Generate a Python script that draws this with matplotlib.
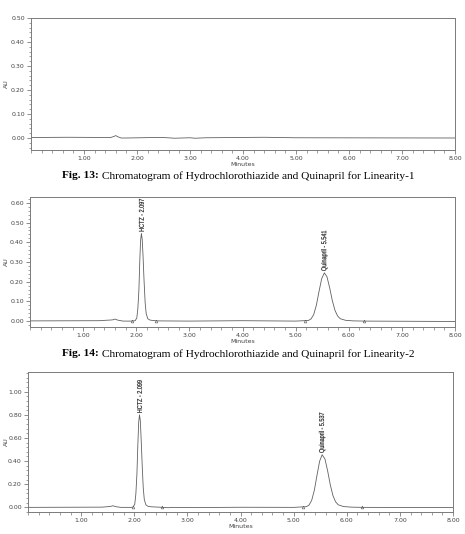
import matplotlib
matplotlib.use("Agg")
import matplotlib.pyplot as plt
from matplotlib.font_manager import FontProperties
from matplotlib.patches import PathPatch
from matplotlib.textpath import TextPath
from matplotlib.transforms import Affine2D
from matplotlib.ticker import MultipleLocator, FormatStrFormatter

# ---- data (time in minutes, absorbance in AU) ----
t1 = [0.0, 0.7, 1.5, 1.56, 1.6, 1.64, 1.7, 1.8, 2.3, 2.5, 2.65, 2.7, 3.0, 3.1, 3.3, 4.4, 5.0, 8.0]
au1 = [0.002, 0.003, 0.002, 0.006, 0.010, 0.005, 0.0, 0.0, 0.002, 0.002, 0.0, -0.001,
       0.001, -0.001, 0.001, 0.003, 0.001, 0.0]

t2 = [0.0, 1.3, 1.55, 1.6, 1.65, 1.75, 1.9, 1.98, 2.01, 2.03, 2.05, 2.067, 2.082, 2.097,
      2.112, 2.127, 2.147, 2.167, 2.187, 2.217, 2.26, 2.32, 2.4, 3.0, 4.0, 5.0, 5.24, 5.29,
      5.34, 5.39, 5.44, 5.49, 5.541, 5.59, 5.64, 5.69, 5.74, 5.79, 5.84, 5.94, 6.09, 6.3, 8.0]
au2 = [0.001, 0.002, 0.006, 0.010, 0.005, 0.0, 0.0, 0.002, 0.016, 0.063, 0.158, 0.31, 0.41,
       0.445, 0.415, 0.335, 0.205, 0.095, 0.038, 0.012, 0.005, 0.003, 0.001, 0.0, 0.002,
       0.0, 0.003, 0.011, 0.033, 0.08, 0.15, 0.215, 0.245, 0.225, 0.17, 0.105, 0.055,
       0.026, 0.012, 0.004, 0.001, 0.0, -0.002]

t3 = [0.0, 1.4, 1.55, 1.6, 1.65, 1.75, 1.95, 1.98, 2.01, 2.03, 2.05, 2.069, 2.084, 2.099,
      2.114, 2.129, 2.149, 2.169, 2.189, 2.219, 2.26, 2.32, 2.5, 2.65, 2.7, 3.1, 4.0, 5.0,
      5.24, 5.29, 5.34, 5.39, 5.44, 5.49, 5.537, 5.59, 5.64, 5.69, 5.74, 5.79, 5.84, 5.94,
      6.09, 6.3, 8.0]
au3 = [0.0, 0.002, 0.008, 0.014, 0.006, 0.0, 0.0, 0.004, 0.029, 0.115, 0.285, 0.56, 0.74,
       0.80, 0.75, 0.60, 0.37, 0.17, 0.068, 0.022, 0.009, 0.005, 0.001, -0.003, 0.0,
       -0.002, 0.001, 0.0, 0.006, 0.02, 0.061, 0.148, 0.278, 0.40, 0.455, 0.418, 0.316,
       0.195, 0.102, 0.048, 0.022, 0.007, 0.002, 0.0, -0.002]

peaks2 = [("HCTZ - 2.097", 2.097, 0.445), ("Quinapril - 5.541", 5.541, 0.245)]
peaks3 = [("HCTZ - 2.099", 2.099, 0.80), ("Quinapril - 5.537", 5.537, 0.455)]
marks2 = [1.92, 2.38, 5.18, 6.28]
marks3 = [1.98, 2.52, 5.17, 6.28]

captions = ["Chromatogram of Hydrochlorothiazide and Quinapril for Linearity-1",
            "Chromatogram of Hydrochlorothiazide and Quinapril for Linearity-2"]
fig_nums = ["Fig. 13:", "Fig. 14:"]

W, H = 465, 534
fig = plt.figure(figsize=(W / 100, H / 100), dpi=100)
gray = "#7a7a7a"
trace = "#606060"
label_fp = FontProperties(family="Liberation Sans")


def make_axes(left, right, top, bottom, ylim, ymaj, ymin):
    ax = fig.add_axes([left / W, (H - bottom) / H, (right - left) / W, (bottom - top) / H])
    ax.set_xlim(0, 8)
    ax.set_ylim(*ylim)
    ax.xaxis.set_minor_locator(MultipleLocator(0.2))
    ax.yaxis.set_major_locator(MultipleLocator(ymaj))
    ax.yaxis.set_minor_locator(MultipleLocator(ymin))
    ax.xaxis.set_major_formatter(FormatStrFormatter("%.2f"))
    ax.yaxis.set_major_formatter(FormatStrFormatter("%.2f"))
    ax.set_xticks([1, 2, 3, 4, 5, 6, 7, 8])
    ax.tick_params(which="major", length=3, width=0.6, color=gray, labelsize=4.5,
                   labelcolor="#444444", pad=1.5)
    ax.tick_params(which="minor", length=1.8, width=0.5, color=gray)
    for s in ax.spines.values():
        s.set_color(gray)
        s.set_linewidth(0.7)
    ax.set_xlabel("Minutes", fontsize=4.5, color="#444444", labelpad=0.5)
    fig.text(6 / W, (H - (top + bottom) / 2) / H, "AU", rotation=90, fontsize=4.5,
             color="#444444", ha="center", va="center")
    return ax


def peak_labels(ax, peaks, marks):
    # condensed, rotated labels like the instrument software draws them
    ref = TextPath((0, 0), "Quinapril - 5.541", size=1, prop=label_fp).get_extents()
    sx = 40 / ref.width
    for name, rt, h in peaks:
        tp = TextPath((0, 0), name, size=1, prop=label_fp)
        bb = tp.get_extents()
        xd, yd = ax.transData.transform((rt, h))
        tr = (Affine2D().translate(-bb.x0, -(bb.y0 + bb.y1) / 2)
              .scale(sx, 7.0).rotate_deg(90).translate(xd, yd + 2))
        fig.add_artist(PathPatch(tp, transform=tr, fc="#2a2a2a", ec="#2a2a2a", lw=0.15))
    ax.plot(marks, [0.0] * len(marks), linestyle="none", marker="^", ms=2,
            mfc="none", mec="#555555", mew=0.4)


ax1 = make_axes(31, 455, 18, 150, (-0.05, 0.50), 0.1, 0.02)
ax1.plot(t1, au1, color=trace, lw=0.6)

ax2 = make_axes(30, 455, 197, 327, (-0.03, 0.63), 0.1, 0.02)
ax2.plot(t2, au2, color=trace, lw=0.6)
peak_labels(ax2, peaks2, marks2)

ax3 = make_axes(28, 453, 372, 512, (-0.04, 1.17), 0.2, 0.04)
ax3.plot(t3, au3, color=trace, lw=0.6)
peak_labels(ax3, peaks3, marks3)

# captions with bold figure number
renderer = fig.canvas.get_renderer()
for num, cap, yc in zip(fig_nums, captions, [176, 354]):
    t_b = fig.text(0, (H - yc) / H, num, fontsize=8.2, fontweight="bold",
                   family="Liberation Serif", va="center", ha="left")
    t_r = fig.text(0, (H - yc) / H, " " + cap, fontsize=8.2,
                   family="Liberation Serif", va="center", ha="left")
    wb = t_b.get_window_extent(renderer).width
    wr = t_r.get_window_extent(renderer).width
    x0 = (W - wb - wr) / 2 + 6
    t_b.set_x(x0 / W)
    t_r.set_x((x0 + wb) / W)

fig.savefig("out.png", dpi=100)
